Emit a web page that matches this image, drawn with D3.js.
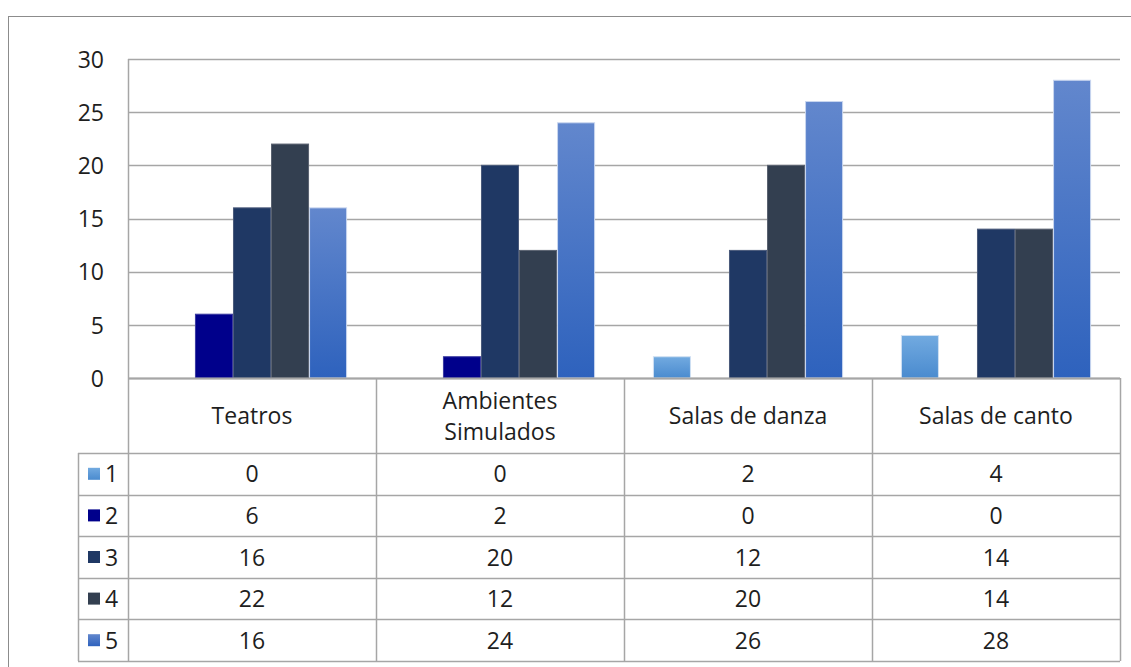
<!DOCTYPE html>
<html>
<head>
<meta charset="utf-8">
<script src="https://cdn.jsdelivr.net/npm/d3@7"></script>
<style>
  body { margin: 0; background: #fff; }
  svg { display: block; font-family: "Open Sans", "Noto Sans", sans-serif; }
</style>
</head>
<body>
<svg></svg>
<script>
"use strict";

const categories = ["Teatros", "Ambientes Simulados", "Salas de danza", "Salas de canto"];
const seriesNames = ["1", "2", "3", "4", "5"];
const series1 = [0, 0, 2, 4];
const series2 = [6, 2, 0, 0];
const series3 = [16, 20, 12, 14];
const series4 = [22, 12, 20, 14];
const series5 = [16, 24, 26, 28];
const yTicks = [0, 5, 10, 15, 20, 25, 30];

const values = [series1, series2, series3, series4, series5];

const width = 1131;
const height = 667;
const plotLeft = 128;
const plotRight = 1120;
const plotTop = 59;
const plotBottom = 378;
const headerH = 75;
const rowH = 41.6;
const legendLeft = 78;
const gridColor = "#a6a6a6";
const fontSize = 23;
const textColor = "#1e1e1e";

const svg = d3.select("svg").attr("width", width).attr("height", height);

const defs = svg.append("defs");
const grad = (id, top, bottom) => {
  const g = defs.append("linearGradient").attr("id", id)
    .attr("x1", 0).attr("y1", 0).attr("x2", 0).attr("y2", 1);
  g.append("stop").attr("offset", "0%").attr("stop-color", top);
  g.append("stop").attr("offset", "100%").attr("stop-color", bottom);
};
grad("g1", "#72aae0", "#4a8bcf");
grad("g5", "#6287cd", "#2e62bd");

const fills = ["url(#g1)", "#00008b", "#1f3864", "#333f50", "url(#g5)"];
const strokes = ["#cfe0f3", "#3a3aa0", "#4a5a7a", "#5a6270", "#c9d6ef"];

// outer frame
svg.append("rect")
  .attr("x", 8.5).attr("y", 16.5)
  .attr("width", width + 10).attr("height", height + 10)
  .attr("fill", "none").attr("stroke", "#8c8c8c").attr("stroke-width", 1);

const x0 = d3.scaleBand().domain(categories).range([plotLeft, plotRight]);
const x1 = d3.scaleBand().domain(seriesNames)
  .range([0, x0.bandwidth()]).paddingInner(0).paddingOuter(0.76);
const y = d3.scaleLinear().domain([0, 30]).range([plotBottom, plotTop]);

// gridlines
svg.append("g").selectAll("line").data(yTicks).enter().append("line")
  .attr("x1", plotLeft).attr("x2", plotRight)
  .attr("y1", (d) => Math.round(y(d)) + 0.5).attr("y2", (d) => Math.round(y(d)) + 0.5)
  .attr("stroke", gridColor).attr("stroke-width", 1.5);

// y axis labels
const yAxis = d3.axisLeft(y).tickValues(yTicks).tickSize(0).tickPadding(24);
const yg = svg.append("g").attr("transform", `translate(${plotLeft},0)`).call(yAxis);
yg.select(".domain").remove();
yg.selectAll("text").attr("font-size", fontSize).attr("fill", textColor)
  .attr("font-family", "'Open Sans', sans-serif")
  .attr("dy", "0.36em");

// bars
const groups = svg.append("g").selectAll("g").data(categories).enter().append("g")
  .attr("transform", (d) => `translate(${x0(d)},0)`);
groups.selectAll("rect")
  .data((c, ci) => seriesNames.map((s, si) => ({ s, si, v: values[si][ci] })))
  .enter().append("rect")
  .filter((d) => d.v > 0)
  .attr("x", (d) => x1(d.s) + 0.5)
  .attr("width", x1.bandwidth() - 1)
  .attr("y", (d) => y(d.v))
  .attr("height", (d) => y(0) - y(d.v))
  .attr("fill", (d) => fills[d.si])
  .attr("stroke", (d) => strokes[d.si])
  .attr("stroke-width", 1);

// plot left edge
svg.append("line")
  .attr("x1", plotLeft + 0.5).attr("x2", plotLeft + 0.5)
  .attr("y1", plotTop).attr("y2", plotBottom)
  .attr("stroke", gridColor).attr("stroke-width", 1.5);

// data table
const tableTop = plotBottom;
const rowsTop = tableTop + headerH;
const tableBottom = rowsTop + rowH * seriesNames.length;
const table = svg.append("g");

table.append("line")
  .attr("x1", plotLeft).attr("x2", plotRight)
  .attr("y1", tableTop + 0.5).attr("y2", tableTop + 0.5)
  .attr("stroke", gridColor).attr("stroke-width", 2);

const colEdges = categories.map((c) => x0(c)).concat([plotRight]);
table.selectAll("line.v").data(colEdges).enter().append("line")
  .attr("class", "v")
  .attr("x1", (d) => d + 0.5).attr("x2", (d) => d + 0.5)
  .attr("y1", tableTop).attr("y2", tableBottom)
  .attr("stroke", gridColor).attr("stroke-width", 1.5);

table.append("line")
  .attr("x1", legendLeft + 0.5).attr("x2", legendLeft + 0.5)
  .attr("y1", rowsTop).attr("y2", tableBottom)
  .attr("stroke", gridColor).attr("stroke-width", 1.5);

const rowEdges = d3.range(seriesNames.length + 1).map((i) => rowsTop + i * rowH);
table.selectAll("line.h").data(rowEdges).enter().append("line")
  .attr("class", "h")
  .attr("x1", legendLeft).attr("x2", plotRight)
  .attr("y1", (d) => Math.round(d) + 0.5).attr("y2", (d) => Math.round(d) + 0.5)
  .attr("stroke", gridColor).attr("stroke-width", 1.5);

// header labels
const header = table.selectAll("text.head").data(categories).enter().append("text")
  .attr("class", "head")
  .attr("x", (d) => x0(d) + x0.bandwidth() / 2)
  .attr("text-anchor", "middle")
  .attr("font-size", fontSize).attr("fill", textColor);
header.each(function (d) {
  const words = d === "Ambientes Simulados" ? ["Ambientes", "Simulados"] : [d];
  const t = d3.select(this);
  const mid = tableTop + headerH / 2 + 8.5;
  words.forEach((w, i) => {
    t.append("tspan")
      .attr("x", x0(d) + x0.bandwidth() / 2)
      .attr("y", mid + (i - (words.length - 1) / 2) * 31)
      .text(w);
  });
});

// legend column and values
seriesNames.forEach((s, si) => {
  const cy = rowsTop + si * rowH + rowH / 2;
  table.append("rect")
    .attr("x", 88).attr("y", cy - 6).attr("width", 12).attr("height", 12)
    .attr("fill", fills[si]);
  table.append("text")
    .attr("x", 105).attr("y", cy + 8.5)
    .attr("font-size", fontSize).attr("fill", textColor)
    .text(s);
  categories.forEach((c, ci) => {
    table.append("text")
      .attr("x", x0(c) + x0.bandwidth() / 2).attr("y", cy + 8.5)
      .attr("text-anchor", "middle")
      .attr("font-size", fontSize).attr("fill", textColor)
      .text(values[si][ci]);
  });
});
</script>
</body>
</html>
